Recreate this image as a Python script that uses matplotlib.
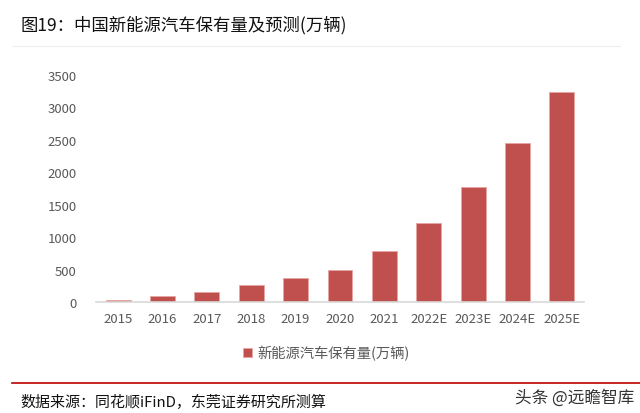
import matplotlib.pyplot as plt
import numpy as np

plt.rcParams['font.family'] = ['Noto Sans CJK SC', 'DejaVu Sans']

years = ["2015", "2016", "2017", "2018", "2019", "2020", "2021",
         "2022E", "2023E", "2024E", "2025E"]
stock = [42, 91, 153, 261, 381, 492, 784, 1220, 1770, 2450, 3230]
yticks = [0, 500, 1000, 1500, 2000, 2500, 3000, 3500]

title = "图19：中国新能源汽车保有量及预测(万辆)"
series_name = "新能源汽车保有量(万辆)"
source = "数据来源：同花顺iFinD，东莞证券研究所测算"
mark = "头条 @远瞻智库"

BAR = "#C0504D"
GREY = "#595959"

fig = plt.figure(figsize=(6.4, 4.14), dpi=100)
ax = fig.add_axes([0.15, 0.2674, 0.7625, 0.5496])

x = np.arange(len(years))
ax.bar(x, stock, width=0.56, color=BAR, edgecolor="#E6A5A3", linewidth=0.6,
       label=series_name)
ax.set_xlim(-0.5, len(years) - 0.5)
ax.set_ylim(0, 3500)
ax.set_yticks(yticks)
ax.set_xticks(x)
ax.set_xticklabels(years)
ax.tick_params(axis="both", length=0, colors=GREY, labelsize=9.5)
ax.tick_params(axis="y", pad=14)
ax.tick_params(axis="x", pad=7)
for s in ("top", "right", "left"):
    ax.spines[s].set_visible(False)
ax.spines["bottom"].set_color("#D9D9D9")
ax.spines["bottom"].set_linewidth(1.2)

fig.legend(loc="center", bbox_to_anchor=(0.51, 1 - 354 / 414), frameon=False,
           fontsize=10.3, labelcolor=GREY, handlelength=0.6, handleheight=0.6,
           handletextpad=0.4)

fig.text(20 / 640, 1 - 25 / 414, title, fontsize=12.5, va="center", ha="left",
         color="#111111")
fig.add_artist(plt.Line2D([12 / 640, 620 / 640], [1 - 47 / 414] * 2,
                          color="#EEEEEE", linewidth=0.8))
fig.add_artist(plt.Line2D([12 / 640, 1.0], [1 - 384 / 414] * 2,
                          color="#C00000", linewidth=1.2))
fig.text(20 / 640, 1 - 402 / 414, source, fontsize=10.8, va="center",
         ha="left", color="#111111")
fig.text(634 / 640, 1 - 398 / 414, mark, fontsize=12, va="center",
         ha="right", color="#333333")

fig.savefig("out.png", dpi=100)
